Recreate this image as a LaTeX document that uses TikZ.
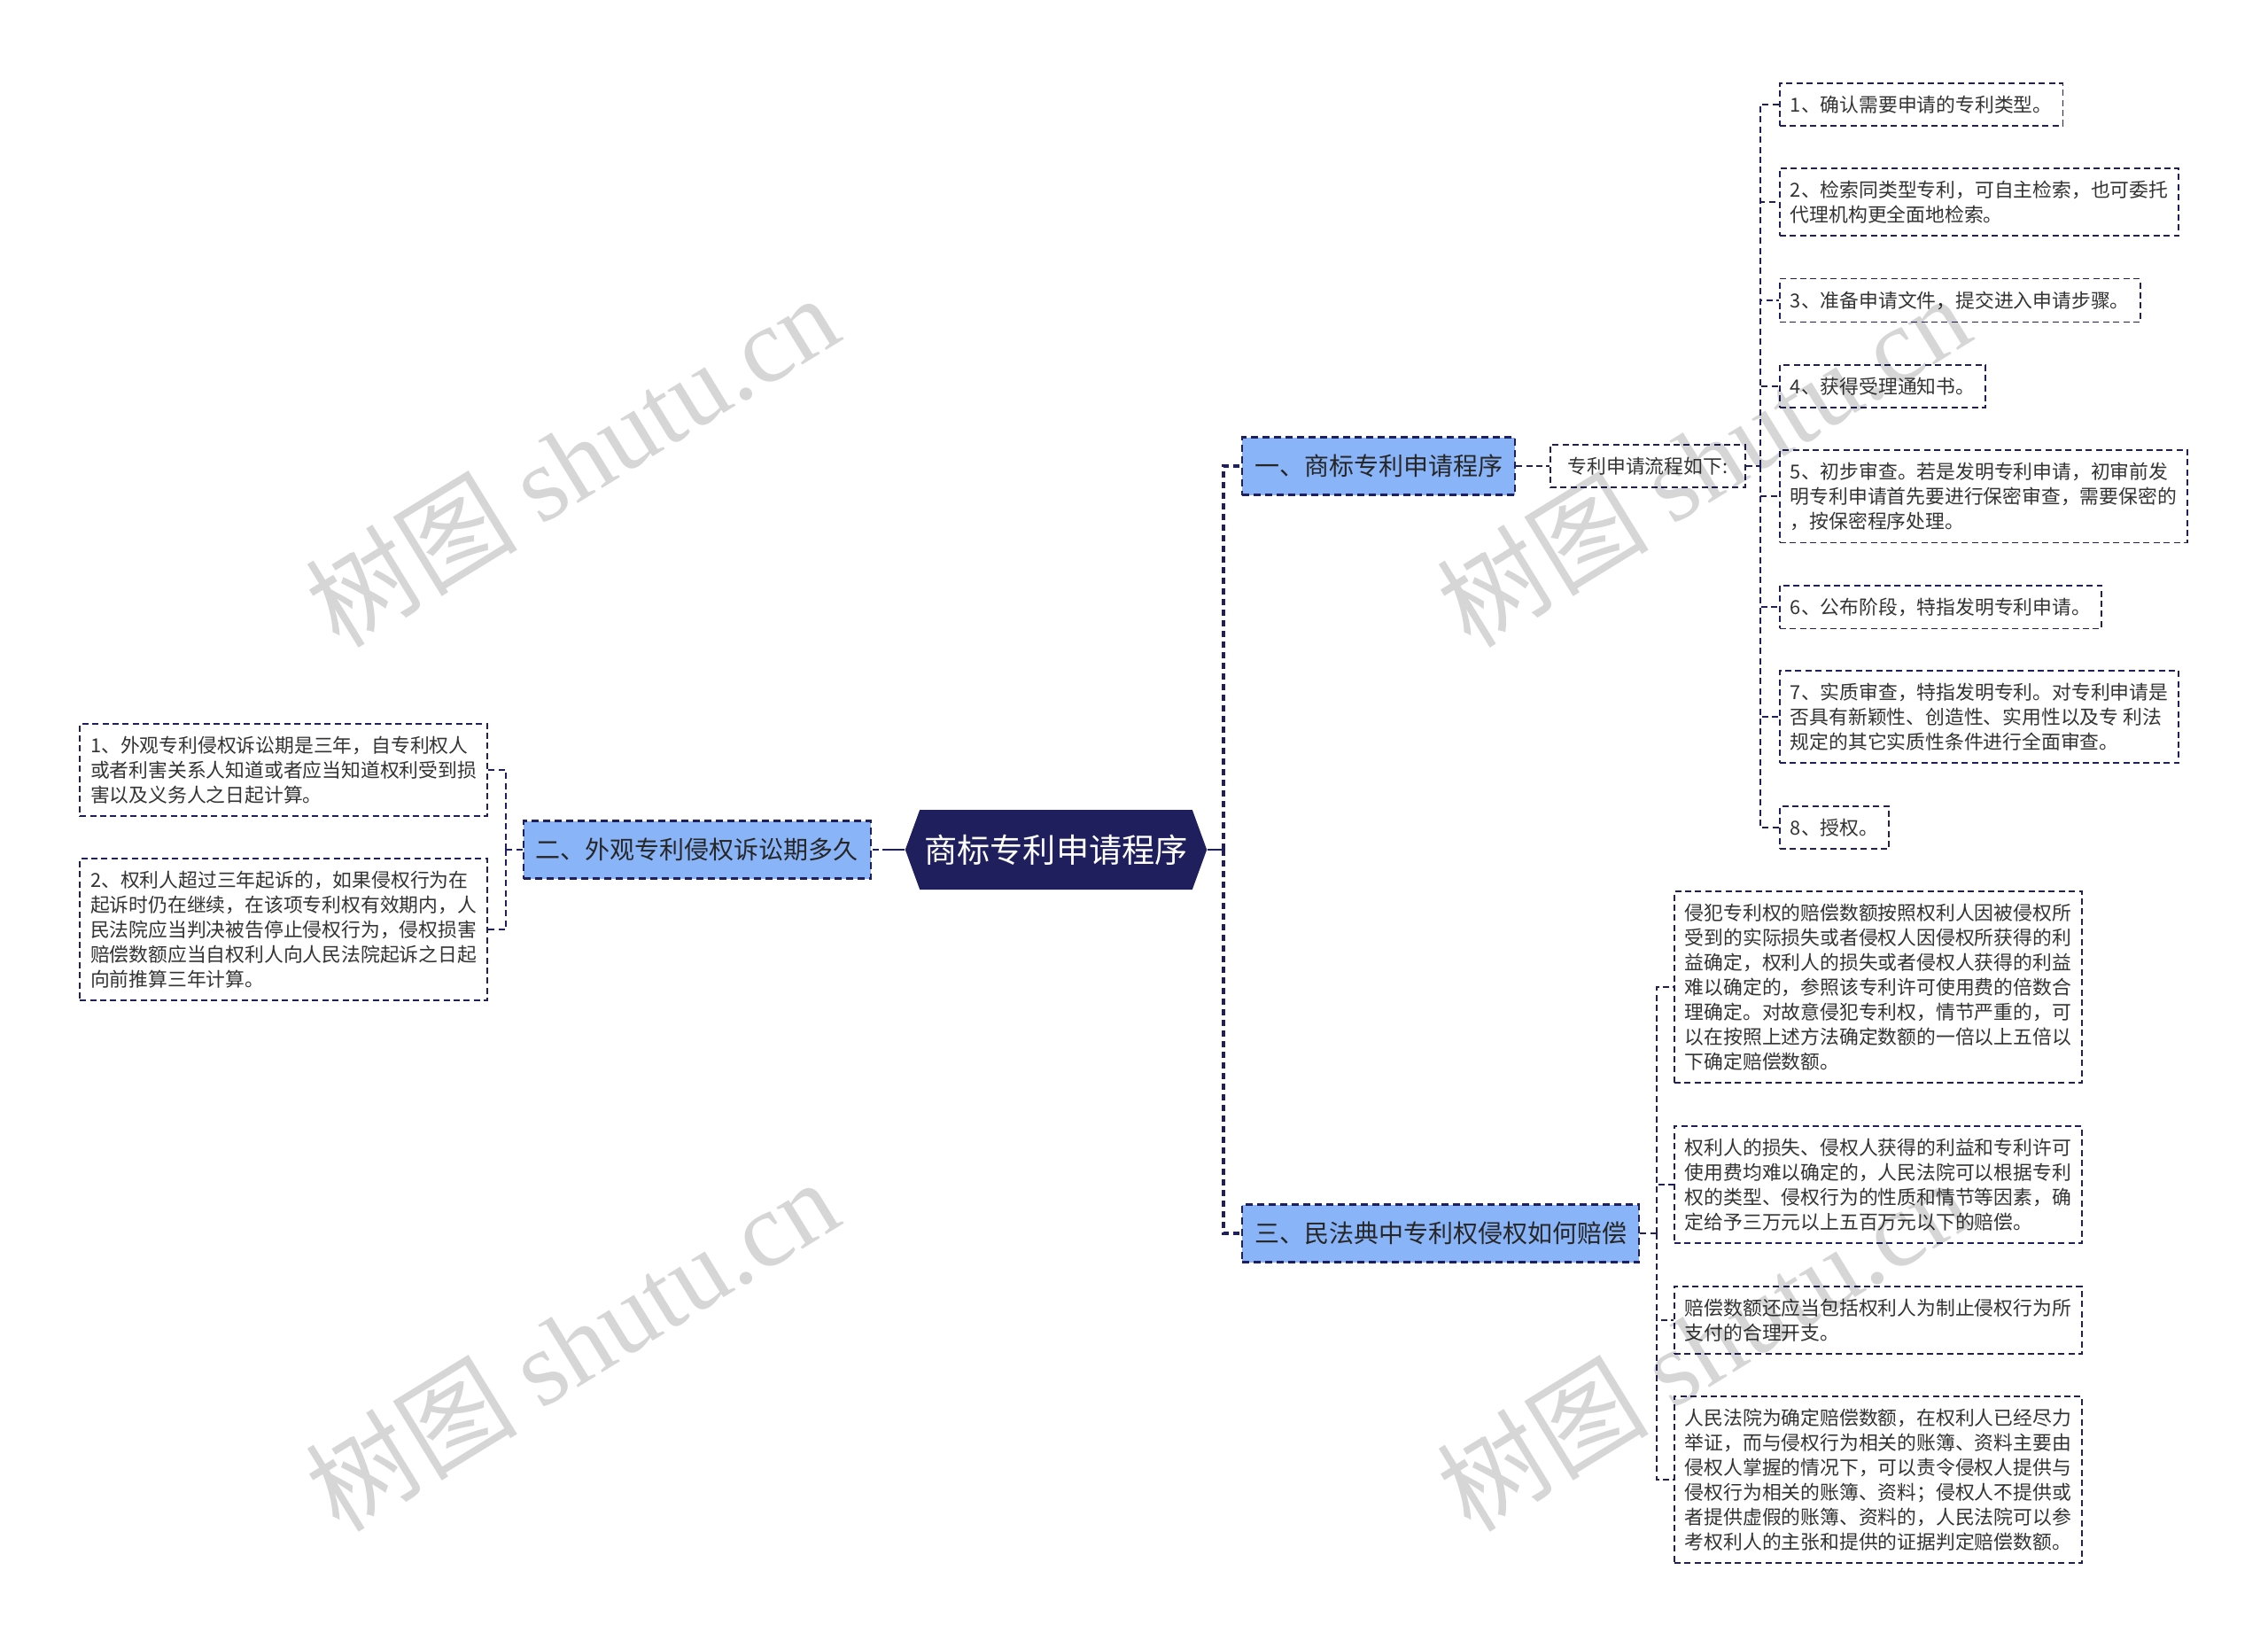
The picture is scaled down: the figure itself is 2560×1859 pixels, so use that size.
\documentclass[tikz,border=0pt]{standalone}
\usepackage{fontspec}
\setmainfont{Noto Sans CJK SC}
\newfontfamily\wmfont{Liberation Serif}
\usepackage{xcolor}
\usepackage{tikz}
\usetikzlibrary{shapes.symbols}
\definecolor{navy}{HTML}{1E1F5C}
\definecolor{branchblue}{HTML}{8AB4F8}
\definecolor{leaftext}{HTML}{333333}

\begin{document}
\begin{tikzpicture}[x=0.5pt, y=-0.5pt,
  root/.style={shape=signal, signal to=east and west, signal pointer angle=140,
               fill=navy, text=white, font=\fontsize{18.6}{22}\selectfont,
               minimum height=45pt, inner xsep=2.5pt},
  branch/.style={draw=navy, fill=branchblue, dash pattern=on 4pt off 2.5pt, line width=1.1pt,
                 font=\fontsize{14}{17}\selectfont, text=black!85, inner xsep=7pt,
                 minimum height=32.5pt},
  leaf/.style={draw=navy, fill=white, dash pattern=on 3.5pt off 2.2pt, line width=0.9pt,
               font=\fontsize{10.9}{14}\selectfont, text=leaftext, align=left,
               inner xsep=6pt, inner ysep=7pt},
  link/.style={draw=navy, dash pattern=on 3.5pt off 2.2pt, line width=0.9pt},
  trunk/.style={draw=navy, dash pattern=on 3.5pt off 2.5pt, line width=1.6pt},
  stub/.style={draw=navy, line width=1.3pt},
  wm/.style={text=black, opacity=0.16, rotate=31.6, font=\fontsize{60}{60}\selectfont}]
  \useasboundingbox (0,0) rectangle (2560,1859);
  % centre and the three branches
  \node[root]  (root) at (1192,959) {商标专利申请程序};
  \node[branch, anchor=west] (b1) at (1401,526)  {一、商标专利申请程序};
  \node[branch, anchor=east] (b2) at (984,959)   {二、外观专利侵权诉讼期多久};
  \node[branch, anchor=west] (b3) at (1401,1392) {三、民法典中专利权侵权如何赔偿};
  \node[leaf, anchor=west, minimum width=110pt] (flow) at (1749,526) {专利申请流程如下:};
  % steps of the application
  \node[leaf, anchor=west] (r1) at (2008,118) {1、确认需要申请的专利类型。};
  \node[leaf, anchor=west] (r2) at (2008,228) {2、检索同类型专利，可自主检索，也可委托\\代理机构更全面地检索。};
  \node[leaf, anchor=west] (r3) at (2008,339) {3、准备申请文件，提交进入申请步骤。};
  \node[leaf, anchor=west] (r4) at (2008,436) {4、获得受理通知书。};
  \node[leaf, anchor=west] (r5) at (2008,560) {5、初步审查。若是发明专利申请，初审前发\\明专利申请首先要进行保密审查，需要保密的\\，按保密程序处理。};
  \node[leaf, anchor=west] (r6) at (2008,685) {6、公布阶段，特指发明专利申请。};
  \node[leaf, anchor=west] (r7) at (2008,809) {7、实质审查，特指发明专利。对专利申请是\\否具有新颖性、创造性、实用性以及专 利法\\规定的其它实质性条件进行全面审查。};
  \node[leaf, anchor=west] (r8) at (2008,934) {8、授权。};
  % limitation period
  \node[leaf, anchor=east] (l1) at (551,869)  {1、外观专利侵权诉讼期是三年，自专利权人\\或者利害关系人知道或者应当知道权利受到损\\害以及义务人之日起计算。};
  \node[leaf, anchor=east] (l2) at (551,1049) {2、权利人超过三年起诉的，如果侵权行为在\\起诉时仍在继续，在该项专利权有效期内，人\\民法院应当判决被告停止侵权行为，侵权损害\\赔偿数额应当自权利人向人民法院起诉之日起\\向前推算三年计算。};
  % compensation
  \node[leaf, anchor=west] (c1) at (1889,1114) {侵犯专利权的赔偿数额按照权利人因被侵权所\\受到的实际损失或者侵权人因侵权所获得的利\\益确定，权利人的损失或者侵权人获得的利益\\难以确定的，参照该专利许可使用费的倍数合\\理确定。对故意侵犯专利权，情节严重的，可\\以在按照上述方法确定数额的一倍以上五倍以\\下确定赔偿数额。};
  \node[leaf, anchor=west] (c2) at (1889,1337) {权利人的损失、侵权人获得的利益和专利许可\\使用费均难以确定的，人民法院可以根据专利\\权的类型、侵权行为的性质和情节等因素，确\\定给予三万元以上五百万元以下的赔偿。};
  \node[leaf, anchor=west] (c3) at (1889,1490) {赔偿数额还应当包括权利人为制止侵权行为所\\支付的合理开支。};
  \node[leaf, anchor=west] (c4) at (1889,1670) {人民法院为确定赔偿数额，在权利人已经尽力\\举证，而与侵权行为相关的账簿、资料主要由\\侵权人掌握的情况下，可以责令侵权人提供与\\侵权行为相关的账簿、资料；侵权人不提供或\\者提供虚假的账簿、资料的，人民法院可以参\\考权利人的主张和提供的证据判定赔偿数额。};
  % connectors
  \coordinate (rt)  at (1381,959);
  \coordinate (lt)  at (1003,959);
  \coordinate (fk1) at (1987,526);
  \coordinate (fk2) at (571,959);
  \coordinate (fk3) at (1870,1392);
  \draw[stub] (root.east) -- (rt);
  \draw[stub] (root.west) -- (lt);
  \draw[trunk] (rt) |- (b1.west);
  \draw[trunk] (rt) |- (b3.west);
  \draw[link] (lt) -- (b2.east);
  \draw[link] (b1.east) -- (flow.west);
  \draw[link] (flow.east) -- (fk1);
  \foreach \n in {1,...,8} \draw[link] (fk1) |- (r\n.west);
  \draw[link] (b2.west) -- (fk2);
  \foreach \n in {1,2} \draw[link] (fk2) |- (l\n.east);
  \draw[link] (b3.east) -- (fk3);
  \foreach \n in {1,...,4} \draw[link] (fk3) |- (c\n.west);
  % watermarks
  \node[wm] (wm1) at (645,519)   {树图 {\wmfont shutu.cn}};
  \node[wm] (wm2) at (1922,519)  {树图 {\wmfont shutu.cn}};
  \node[wm] (wm3) at (645,1517)  {树图 {\wmfont shutu.cn}};
  \node[wm] (wm4) at (1922,1517) {树图 {\wmfont shutu.cn}};
\end{tikzpicture}
\end{document}
